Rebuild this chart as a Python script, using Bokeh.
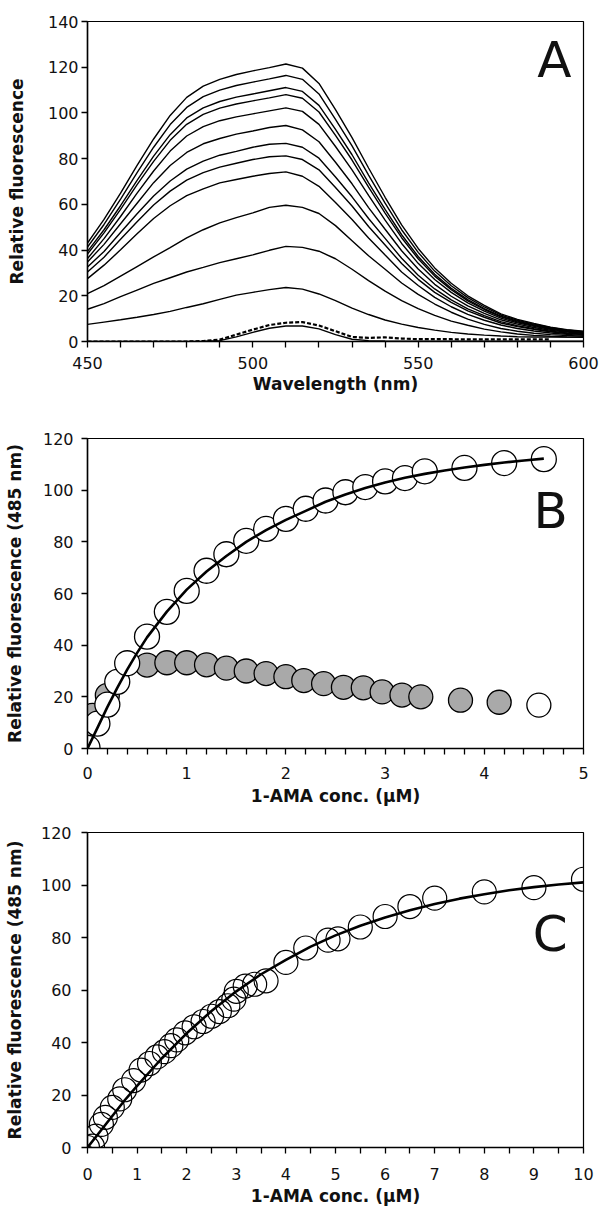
from bokeh.plotting import figure
from bokeh.models import Range1d, FixedTicker, Label
from bokeh.layouts import column
from bokeh.embed import file_html
from bokeh.resources import INLINE

# ---------------- Panel A : emission spectra ----------------
wavelength = [450, 455, 460, 465, 470, 475, 480, 485, 490, 495, 500, 505, 510, 515, 520,
              525, 530, 535, 540, 545, 550, 555, 560, 565, 570, 575, 580, 585, 590, 595, 600]

spec_01 = [43.1, 53.4, 64.9, 77.1, 88.6, 98.9, 106.8, 111.7, 114.7, 116.8, 118.4, 119.8, 121.4, 119.6, 112.9, 101.4, 89.2, 75.9, 63.1, 51.0, 40.7, 32.2, 25.5, 20.0, 15.8, 12.1, 9.7, 7.9, 6.3, 5.2, 4.5]
spec_02 = [41.3, 51.2, 62.3, 73.9, 85.0, 94.9, 102.4, 107.1, 110.0, 112.0, 113.5, 114.9, 116.4, 114.7, 108.3, 97.2, 85.6, 72.8, 60.5, 48.9, 39.0, 30.8, 24.4, 19.2, 15.1, 11.6, 9.3, 7.6, 6.1, 5.0, 4.3]
spec_03 = [39.4, 48.9, 59.4, 70.5, 81.1, 90.5, 97.8, 102.2, 105.0, 106.9, 108.3, 109.7, 111.1, 109.4, 103.3, 92.8, 81.7, 69.4, 57.8, 46.7, 37.2, 29.4, 23.3, 18.3, 14.4, 11.1, 8.9, 7.2, 5.8, 4.8, 4.1]
spec_04 = [38.3, 47.5, 57.8, 68.6, 78.8, 88.0, 95.0, 99.4, 102.1, 103.9, 105.3, 106.6, 108.0, 106.4, 100.4, 90.2, 79.4, 67.5, 56.2, 45.4, 36.2, 28.6, 22.7, 17.8, 14.0, 10.8, 8.6, 7.0, 5.6, 4.6, 4.0]
spec_05 = [36.3, 45.0, 54.7, 64.9, 74.6, 83.3, 89.9, 94.0, 96.6, 98.3, 99.6, 100.9, 102.2, 100.7, 95.0, 85.3, 75.1, 63.9, 53.1, 42.9, 34.2, 27.1, 21.5, 16.9, 13.3, 10.2, 8.2, 6.6, 5.3, 4.4, 3.8]
spec_06 = [34.8, 42.5, 51.5, 60.5, 69.5, 77.0, 82.7, 86.5, 88.8, 90.7, 92.1, 93.6, 94.5, 92.6, 87.4, 78.4, 69.0, 58.6, 49.1, 39.7, 31.7, 25.0, 19.8, 15.6, 12.3, 9.5, 7.6, 6.1, 4.9, 4.1, 3.5]
spec_07 = [32.6, 39.4, 47.7, 55.9, 63.7, 70.2, 75.4, 78.9, 81.5, 83.2, 85.0, 86.3, 86.7, 85.0, 80.2, 72.0, 63.3, 53.8, 45.1, 36.4, 29.0, 23.0, 18.2, 14.3, 11.3, 8.7, 6.9, 5.6, 4.5, 3.7, 3.2]
spec_08 = [30.4, 36.9, 44.7, 52.4, 59.7, 65.8, 70.6, 73.9, 76.3, 78.0, 79.6, 80.8, 81.2, 79.6, 75.1, 67.4, 59.3, 50.3, 42.2, 34.1, 27.2, 21.5, 17.1, 13.4, 10.6, 8.1, 6.5, 5.3, 4.2, 3.5, 3.0]
spec_09 = [27.5, 33.4, 40.1, 47.1, 53.8, 59.4, 63.8, 66.8, 69.4, 70.9, 72.3, 73.5, 74.2, 72.3, 67.9, 60.8, 53.4, 45.3, 37.8, 30.4, 24.5, 19.3, 15.2, 11.9, 9.3, 7.2, 5.7, 4.6, 3.7, 3.1, 2.7]
spec_10 = [20.9, 24.4, 28.6, 32.8, 37.0, 41.1, 45.3, 48.9, 51.9, 54.2, 56.3, 58.7, 59.6, 58.7, 56.0, 50.7, 44.1, 37.5, 31.6, 25.6, 20.6, 16.4, 12.8, 9.8, 7.5, 5.7, 4.5, 3.6, 3.0, 2.6, 2.3]
spec_11 = [14.1, 16.6, 19.6, 22.5, 25.4, 27.9, 30.4, 32.4, 34.5, 36.2, 37.9, 39.9, 41.6, 41.2, 39.5, 36.2, 31.6, 26.6, 22.0, 17.9, 14.4, 11.4, 8.9, 7.1, 5.4, 4.2, 3.3, 2.7, 2.3, 2.0, 1.8]
spec_12 = [7.5, 8.5, 9.5, 10.6, 11.8, 13.2, 14.9, 16.5, 18.4, 20.3, 21.5, 22.7, 23.6, 22.9, 20.8, 17.9, 14.6, 11.8, 9.4, 7.6, 6.1, 5.0, 4.0, 3.3, 2.8, 2.4, 2.1, 2.0, 1.9, 1.9, 1.9]
spec_13 = [0.0, 0.0, 0.0, 0.0, 0.0, 0.0, 0.0, 0.1, 0.4, 2.0, 4.0, 5.8, 6.8, 6.8, 5.5, 3.0, 1.0, 0.4, 0.2, 0.1, 0.1, 0.1, 0.1, 0.1, 0.1, 0.1, 0.1, 0.1, 0.1, 0.1, 0.1]
wavelength_dashed = [450, 455, 460, 465, 470, 475, 480, 485, 490, 495, 500, 505, 510, 515, 520,
                     525, 530, 535, 540, 545, 550, 555, 560, 565, 570, 575, 580, 585, 590]
spec_dashed = [0.0, 0.0, 0.0, 0.0, 0.0, 0.0, 0.0, 0.2, 0.8, 3.0, 5.2, 7.2, 8.2, 8.5, 7.0, 4.5, 2.0, 1.6, 1.8, 1.3, 1.0, 1.0, 1.0, 0.9, 0.9, 0.9, 0.9, 0.9, 0.9]
solid_spectra = [spec_01, spec_02, spec_03, spec_04, spec_05, spec_06, spec_07,
                 spec_08, spec_09, spec_10, spec_11, spec_12, spec_13]

a_xticks = [450, 500, 550, 600]
a_xminor = [460, 470, 480, 490, 510, 520, 530, 540, 560, 570, 580, 590]
a_yticks = [0, 20, 40, 60, 80, 100, 120, 140]

# ---------------- Panel B ----------------
b_open_x = [0.0, 0.1, 0.2, 0.3, 0.4, 0.6, 0.8, 1.0, 1.2, 1.4, 1.6, 1.8, 2.0, 2.2, 2.4, 2.6, 2.8, 3.0, 3.2, 3.4, 3.8, 4.2, 4.6]
b_open_y = [0.3, 9.6, 17.0, 25.8, 33.0, 43.3, 52.9, 61.0, 68.8, 75.2, 80.4, 85.0, 88.9, 92.8, 96.0, 99.2, 101.2, 103.4, 104.7, 107.3, 108.6, 110.5, 112.0]
b_gray_x = [0.05, 0.2, 0.6, 0.8, 1.0, 1.2, 1.4, 1.6, 1.8, 2.0, 2.18, 2.38, 2.58, 2.78, 2.97, 3.17, 3.36, 3.76, 4.15]
b_gray_y = [12.8, 20.6, 32.3, 33.2, 33.2, 32.4, 31.1, 30.0, 29.0, 27.8, 26.3, 25.1, 23.7, 23.5, 21.9, 20.7, 20.0, 18.7, 17.9]
b_last_x = [4.55]
b_last_y = [16.8]
b_fit_x = [0.0, 0.1, 0.2, 0.3, 0.4, 0.5, 0.6, 0.8, 1.0, 1.2, 1.4, 1.6, 1.8, 2.0, 2.2, 2.4, 2.6, 2.8, 3.0, 3.2, 3.4, 3.6, 3.8, 4.0, 4.2, 4.4, 4.6]
b_fit_y = [0.0, 8.0, 16.0, 23.5, 30.5, 37.0, 43.0, 53.0, 61.5, 68.5, 74.5, 80.0, 84.5, 88.5, 92.0, 95.5, 98.3, 100.8, 103.0, 104.8, 106.3, 107.6, 108.8, 109.8, 110.7, 111.5, 112.2]
b_xticks = [0, 1, 2, 3, 4, 5]
b_xminor = [0.2, 0.4, 0.6, 0.8, 1.2, 1.4, 1.6, 1.8, 2.2, 2.4, 2.6, 2.8, 3.2, 3.4, 3.6, 3.8, 4.2, 4.4, 4.6, 4.8]
b_yticks = [0, 20, 40, 60, 80, 100, 120]

# ---------------- Panel C ----------------
c_x = [0.0, 0.1, 0.17, 0.28, 0.36, 0.5, 0.65, 0.75, 0.93, 1.08, 1.25, 1.4, 1.55, 1.68, 1.8, 1.97, 2.15, 2.33, 2.5, 2.66, 2.83, 2.95, 3.0, 3.18, 3.37, 3.6, 4.0, 4.4, 4.85, 5.05, 5.5, 6.0, 6.5, 7.0, 8.0, 9.0, 10.0]
c_y = [0.0, 0.5, 4.3, 8.8, 11.5, 15.3, 18.5, 22.0, 25.5, 29.5, 32.0, 34.5, 36.5, 38.8, 41.0, 43.7, 46.0, 48.0, 50.0, 51.8, 54.0, 56.5, 59.5, 61.5, 62.2, 63.5, 70.5, 76.0, 79.0, 79.5, 84.0, 88.0, 91.8, 95.0, 97.4, 99.0, 102.2]
c_fit_x = [0.0, 0.25, 0.5, 0.75, 1.0, 1.5, 2.0, 2.5, 3.0, 3.5, 4.0, 4.5, 5.0, 5.5, 6.0, 6.5, 7.0, 7.5, 8.0, 8.5, 9.0, 9.5, 10.0]
c_fit_y = [0.0, 6.0, 12.0, 18.0, 23.5, 34.0, 43.5, 52.0, 59.5, 66.0, 71.5, 76.5, 80.8, 84.5, 87.6, 90.4, 92.8, 94.8, 96.5, 98.0, 99.2, 100.2, 101.0]
c_xticks = [0, 1, 2, 3, 4, 5, 6, 7, 8, 9, 10]
c_xminor = [0.5, 1.5, 2.5, 3.5, 4.5, 5.5, 6.5, 7.5, 8.5, 9.5]
c_yticks = [0, 20, 40, 60, 80, 100, 120]

FONT = "DejaVu Sans"


def make_fig(height, x_rng, y_rng, bl, bt, br, bb):
    p = figure(width=606, height=height, x_range=Range1d(*x_rng), y_range=Range1d(*y_rng),
               output_backend="svg", toolbar_location=None,
               min_border_left=bl, min_border_top=bt, min_border_right=br, min_border_bottom=bb)
    p.grid.visible = False
    p.outline_line_color = "black"
    p.outline_line_width = 1.2
    p.background_fill_color = "white"
    p.border_fill_color = "white"
    for ax in (p.xaxis[0], p.yaxis[0]):
        ax.axis_line_color = "black"
        ax.axis_line_width = 1.5
        ax.major_tick_in = 0
        ax.major_tick_out = 6
        ax.minor_tick_in = 0
        ax.minor_tick_out = 6
        ax.major_tick_line_width = 1.3
        ax.minor_tick_line_width = 1.3
        ax.major_label_text_font = FONT
        ax.major_label_text_font_size = "16px"
        ax.major_label_text_color = "#111111"
        ax.axis_label_text_font = FONT
        ax.axis_label_text_font_style = "bold"
        ax.axis_label_text_font_size = "17px"
        ax.axis_label_text_color = "#111111"
    return p


# Panel A  (page y 0-400, frame 82..587 x 21..341)
pA = make_fig(400, (450, 600), (0, 140), 82, 21, 19, 59)
pA.xaxis.ticker = FixedTicker(ticks=a_xticks, minor_ticks=a_xminor)
pA.yaxis.ticker = FixedTicker(ticks=a_yticks)
pA.xaxis.axis_label = "Wavelength (nm)"
pA.yaxis.axis_label = "Relative fluorescence"
pA.xaxis.major_label_standoff = 9
pA.xaxis.axis_label_standoff = 2
pA.yaxis.major_label_standoff = 3
pA.yaxis.axis_label_standoff = 18
for s in solid_spectra:
    pA.line(wavelength, s, line_color="black", line_width=1.4)
pA.line(wavelength_dashed, spec_dashed, line_color="black", line_width=2.2, line_dash="4 2")
pA.add_layout(Label(x=591.2, y=123, text="A", text_font=FONT, text_font_size="50px",
                    text_align="center", text_baseline="middle", text_color="#111111"))

# Panel B  (page y 400-812, frame 87..583 x 438..748)
pB = make_fig(412, (0, 5), (0, 120), 87, 38, 23, 64)
pB.xaxis.ticker = FixedTicker(ticks=b_xticks, minor_ticks=b_xminor)
pB.yaxis.ticker = FixedTicker(ticks=b_yticks)
pB.xaxis.axis_label = "1-AMA conc. (\u00b5M)"
pB.yaxis.axis_label = "Relative fluorescence (485 nm)"
pB.xaxis.major_label_standoff = 12
pB.xaxis.axis_label_standoff = 4
pB.yaxis.major_label_standoff = 8
pB.yaxis.axis_label_standoff = 15
pB.scatter(b_gray_x, b_gray_y, size=24, marker="circle", fill_color="#a9a9a9",
           line_color="black", line_width=1.3)
pB.scatter(b_last_x, b_last_y, size=24, marker="circle", fill_color="white",
           line_color="black", line_width=1.3)
pB.scatter(b_open_x, b_open_y, size=25, marker="circle", fill_color="white",
           line_color="black", line_width=1.3)
pB.line(b_fit_x, b_fit_y, line_color="black", line_width=2.6)
pB.add_layout(Label(x=4.67, y=92, text="B", text_font=FONT, text_font_size="50px",
                    text_align="center", text_baseline="middle", text_color="#111111"))

# Panel C  (page y 812-1208, frame 82..588 x 832..1148)
pC = make_fig(396, (0, 10), (0, 120), 82, 20, 18, 60)
pC.xaxis.ticker = FixedTicker(ticks=c_xticks, minor_ticks=c_xminor)
pC.yaxis.ticker = FixedTicker(ticks=c_yticks)
pC.xaxis.axis_label = "1-AMA conc. (\u00b5M)"
pC.yaxis.axis_label = "Relative fluorescence (485 nm)"
pC.xaxis.major_label_standoff = 14
pC.xaxis.axis_label_standoff = 3
pC.yaxis.major_label_standoff = 10
pC.yaxis.axis_label_standoff = 13
pC.scatter(c_x, c_y, size=24, marker="circle", fill_color=None,
           line_color="black", line_width=1.2)
pC.line(c_fit_x, c_fit_y, line_color="black", line_width=2.6)
pC.add_layout(Label(x=9.33, y=81.5, text="C", text_font=FONT, text_font_size="50px",
                    text_align="center", text_baseline="middle", text_color="#111111"))

layout = column(pA, pB, pC, spacing=0)
open("out.html", "w").write(file_html(layout, INLINE))
